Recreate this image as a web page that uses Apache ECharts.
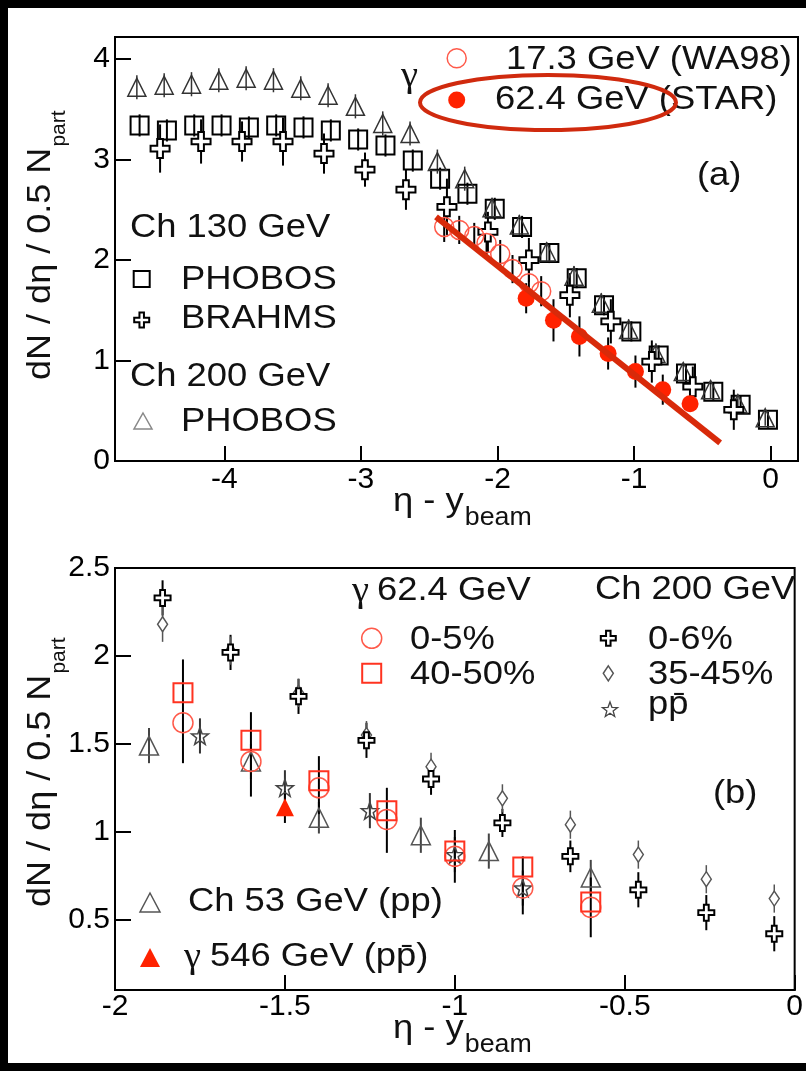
<!DOCTYPE html>
<html><head><meta charset="utf-8">
<script src="https://cdn.jsdelivr.net/npm/echarts@6/dist/echarts.min.js"></script>
<style>html,body{margin:0;padding:0;background:#000}#c{width:806px;height:1071px}</style>
</head><body><div id="c"></div>
<script>
// ---------------- Panel (a) data ----------------
const xTicksA = [-4, -3, -2, -1, 0];
const yTicksA = [0, 1, 2, 3, 4];
// Ch 130 GeV PHOBOS (open squares)
const phobos130X = [-4.62,-4.42,-4.22,-4.02,-3.82,-3.62,-3.42,-3.22,-3.02,-2.82,-2.62,-2.42,-2.22,-2.02,-1.82,-1.62,-1.42,-1.22,-1.02,-0.82,-0.62,-0.42,-0.22,-0.02];
const phobos130Y = [3.34,3.29,3.34,3.34,3.32,3.34,3.32,3.29,3.20,3.14,2.99,2.81,2.66,2.51,2.33,2.07,1.82,1.55,1.29,1.05,0.87,0.69,0.56,0.41];
const phobos130Err = [0.11,0.11,0.11,0.11,0.11,0.11,0.11,0.11,0.11,0.11,0.11,0.11,0.11,0.11,0.11,0.10,0.10,0.10,0.10,0.10,0.09,0.09,0.09,0.08];
// Ch 130 GeV BRAHMS (open crosses)
const brahmsX = [-4.47,-4.17,-3.87,-3.57,-3.27,-2.97,-2.67,-2.37,-2.07,-1.77,-1.47,-1.17,-0.87,-0.57,-0.27];
const brahmsY = [3.11,3.18,3.18,3.18,3.06,2.90,2.70,2.53,2.28,2.00,1.65,1.39,0.99,0.74,0.51];
const brahmsErr = [0.24,0.22,0.20,0.24,0.20,0.17,0.20,0.28,0.20,0.22,0.22,0.22,0.21,0.20,0.20];
// Ch 200 GeV PHOBOS (open triangles)
const phobos200X = [-4.64,-4.44,-4.24,-4.04,-3.84,-3.64,-3.44,-3.24,-3.04,-2.84,-2.64,-2.44,-2.24,-2.04,-1.84,-1.64,-1.44,-1.24,-1.04,-0.84,-0.64,-0.44,-0.24,-0.04];
const phobos200Y = [3.72,3.74,3.75,3.79,3.81,3.79,3.71,3.64,3.53,3.36,3.26,2.98,2.81,2.52,2.35,2.08,1.84,1.57,1.31,1.07,0.89,0.71,0.57,0.43];
const phobos200Err = [0.12,0.12,0.12,0.12,0.12,0.12,0.12,0.12,0.12,0.12,0.12,0.12,0.12,0.10,0.10,0.10,0.10,0.10,0.10,0.10,0.09,0.09,0.09,0.08];
// gamma 17.3 GeV WA98 (open red circles)
const wa98X = [-2.39,-2.28,-2.17,-2.08,-1.98,-1.89,-1.77,-1.68];
const wa98Y = [2.33,2.30,2.24,2.17,2.06,1.91,1.77,1.69];
const wa98Err = [0.15,0.14,0.13,0.14,0.14,0.14,0.15,0.15];
// gamma 62.4 GeV STAR (filled red circles)
const starX = [-1.79,-1.59,-1.40,-1.19,-0.99,-0.79,-0.59];
const starY = [1.62,1.40,1.24,1.07,0.89,0.71,0.57];
const starErr = [0.15,0.21,0.20,0.16,0.16,0.15,0.08];
// red straight line
const fitX = [-2.45, -0.37];
const fitY = [2.43, 0.18];

// ---------------- Panel (b) data ----------------
const xTicksB = [-2, -1.5, -1, -0.5, 0];
const yTicksB = [0.5, 1, 1.5, 2, 2.5];
const ch200X = [-1.86,-1.66,-1.46,-1.26,-1.07,-0.86,-0.66,-0.46,-0.26,-0.06];
const cent06Y = [2.33,2.02,1.77,1.52,1.30,1.05,0.86,0.67,0.54,0.42];
const cent06Err = [0.10,0.10,0.10,0.10,0.09,0.08,0.09,0.10,0.10,0.10];
const cent3545Y = [2.18,2.03,1.79,1.55,1.37,1.19,1.04,0.87,0.73,0.62];
const cent3545Err = [0.10,0.08,0.08,0.08,0.08,0.08,0.08,0.08,0.08,0.08];
const ppbarX = [-1.75,-1.50,-1.25,-1.00,-0.80];
const ppbarY = [1.545,1.25,1.12,0.87,0.68];
const ppbarErr = [0.10,0.10,0.10,0.10,0.10];
const ch53X = [-1.90,-1.60,-1.40,-1.10,-0.90,-0.60];
const ch53Y = [1.49,1.40,1.08,0.98,0.89,0.74];
const ch53Err = [0.10,0.10,0.09,0.10,0.10,0.10];
const g546X = [-1.50];
const g546Y = [1.14];
const g546Err = [0.09];
const g62X = [-1.80,-1.60,-1.40,-1.20,-1.00,-0.80,-0.60];
const g62c05Y = [1.62,1.40,1.25,1.07,0.86,0.68,0.57];
const g62c4050Y = [1.79,1.52,1.29,1.12,0.89,0.80,0.60];
const g62Lo = [1.39,1.20,1.10,0.88,0.71,0.53,0.40];
const g62Hi = [1.98,1.68,1.43,1.25,1.01,0.86,0.74];

// ---------------- helpers ----------------
const FONT = '"Liberation Sans", Arial, Helvetica, sans-serif';
const SERIF = '"Liberation Serif", "DejaVu Serif", serif';
const SX = 1.07;
const _ctx = document.createElement('canvas').getContext('2d');
function mw(t, size) { _ctx.font = size + 'px ' + FONT; return _ctx.measureText(t).width; }

const PLUS = 'path://M7,0H13V7H20V13H13V20H7V13H0V7H7Z';
function starPts(cx, cy, R, r) {
  const p = [];
  for (let i = 0; i < 10; i++) {
    const a = -Math.PI / 2 + i * Math.PI / 5;
    const rr = i % 2 === 0 ? R : r;
    p.push([cx + rr * Math.cos(a), cy + rr * Math.sin(a)]);
  }
  return p;
}
const STAR = 'path://' + starPts(10, 10, 10, 4).map((q, i) => (i ? 'L' : 'M') + q[0].toFixed(3) + ',' + q[1].toFixed(3)).join('') + 'Z';
const NONE = 'rgba(0,0,0,0)';

function errPM(xs, ys, es) { return xs.map((x, i) => [x, ys[i] - es[i], ys[i] + es[i]]); }
function errLH(xs, lo, hi) { return xs.map((x, i) => [x, lo[i], hi[i]]); }
function errSeries(data, idx, color, width) {
  return {
    type: 'custom', xAxisIndex: idx, yAxisIndex: idx, clip: true, silent: true, z: 2,
    encode: { x: 0, y: [1, 2] },
    renderItem: function (params, api) {
      const a = api.coord([api.value(0), api.value(1)]);
      const b = api.coord([api.value(0), api.value(2)]);
      return { type: 'line', shape: { x1: a[0], y1: a[1], x2: b[0], y2: b[1] }, style: { stroke: color, lineWidth: width } };
    },
    data: data
  };
}
function sc(xs, ys, idx, symbol, size, fill, stroke, lw, z) {
  return {
    type: 'scatter', xAxisIndex: idx, yAxisIndex: idx, symbol: symbol, symbolSize: size, silent: true, clip: true,
    z: z || 3,
    data: xs.map((x, i) => [x, ys[i]]),
    itemStyle: { color: fill, borderColor: stroke, borderWidth: lw, opacity: 1 }
  };
}
function T(x, y, text, size, color, family) {
  return { type: 'text', x: x, y: y, z: 50, silent: true, scaleX: SX,
    style: { text: text, font: size + 'px ' + (family || FONT), fill: color || '#111', align: 'left', verticalAlign: 'middle', textAlign: 'left', textVerticalAlign: 'middle' } };
}
function plusPts(cx, cy, s) {
  const a = s / 2, b = s * 0.15;
  return [[cx - b, cy - a], [cx + b, cy - a], [cx + b, cy - b], [cx + a, cy - b], [cx + a, cy + b], [cx + b, cy + b], [cx + b, cy + a], [cx - b, cy + a], [cx - b, cy + b], [cx - a, cy + b], [cx - a, cy - b], [cx - b, cy - b]];
}
function yLabel(xMid, yStart) {
  const main = 'dN / d\u03b7 / 0.5 N';
  const w = mw(main, 34) * 1.06;
  return { type: 'group', x: xMid, y: yStart, rotation: Math.PI / 2, z: 50, children: [
    { type: 'text', x: 0, y: 0, scaleX: 1.06, silent: true, style: { text: main, font: '34px ' + FONT, fill: '#111', align: 'left', verticalAlign: 'middle' } },
    { type: 'text', x: w + 1, y: 18, silent: true, style: { text: 'part', font: '21px ' + FONT, fill: '#111', align: 'left', verticalAlign: 'middle' } }
  ] };
}
function xLabel(xLeft, yMid) {
  const main = '\u03b7 - y';
  const w = mw(main, 34) * SX;
  return [T(xLeft, yMid, main, 34), T(xLeft + w + 1, yMid + 16, 'beam', 25)];
}

function axisPair(idx, xmin, xmax, xt, ymin, ymax, yt, xMargin) {
  const common = {
    type: 'value', gridIndex: idx, splitLine: { show: false },
    axisLine: { show: true, onZero: false, lineStyle: { color: '#000', width: 2 } }
  };
  const x = Object.assign({}, common, {
    min: xmin, max: xmax,
    axisTick: { show: true, inside: true, length: 15, lineStyle: { color: '#000', width: 2 }, customValues: xt },
    axisLabel: { customValues: xt, fontSize: 30, fontFamily: FONT, color: '#000', margin: xMargin, showMinLabel: true, showMaxLabel: true }
  });
  const y = Object.assign({}, common, {
    min: ymin, max: ymax,
    axisTick: { show: true, inside: true, length: 16, lineStyle: { color: '#000', width: 2 }, customValues: yt },
    axisLabel: { customValues: yt, fontSize: 30, fontFamily: FONT, color: '#000', margin: 5, showMinLabel: true, showMaxLabel: true }
  });
  return [x, y];
}
const [xa, ya] = axisPair(0, -4.8, 0.2, xTicksA, 0, 4.22, yTicksA, 4);
const [xb, yb] = axisPair(1, -2, 0, xTicksB, 0.1, 2.5, yTicksB, 2);

const RED = '#ff3320';
const series = [
  // panel (a)
  errSeries(errPM(phobos130X, phobos130Y, phobos130Err), 0, '#000', 2),
  errSeries(errPM(phobos200X, phobos200Y, phobos200Err), 0, '#333', 1.5),
  errSeries(errPM(brahmsX, brahmsY, brahmsErr), 0, '#000', 2),
  errSeries(errPM(wa98X, wa98Y, wa98Err), 0, '#000', 2),
  errSeries(errPM(starX, starY, starErr), 0, '#000', 2),
  sc(phobos130X, phobos130Y, 0, 'rect', 18, NONE, '#000', 2, 3),
  sc(phobos200X, phobos200Y, 0, 'triangle', 18, NONE, '#333', 1.5, 3),
  sc(brahmsX, brahmsY, 0, PLUS, 19, '#fff', '#000', 2, 4),
  sc(wa98X, wa98Y, 0, 'circle', 19, NONE, '#ff5a4a', 1.5, 5),
  sc(starX, starY, 0, 'circle', 17, '#ff2200', '#ff2200', 0, 5),
  { type: 'line', xAxisIndex: 0, yAxisIndex: 0, data: fitX.map((x, i) => [x, fitY[i]]), symbol: 'none', silent: true, z: 6,
    lineStyle: { color: '#d82a0a', width: 6 } },
  // panel (b)
  errSeries(errPM(ch200X, cent06Y, cent06Err), 1, '#000', 2),
  errSeries(errPM(ch200X, cent3545Y, cent3545Err), 1, '#555', 1.5),
  errSeries(errPM(ppbarX, ppbarY, ppbarErr), 1, '#333', 2),
  errSeries(errPM(ch53X, ch53Y, ch53Err), 1, '#444', 2),
  errSeries(errPM(g546X, g546Y, g546Err), 1, '#000', 2),
  errSeries(errLH(g62X, g62Lo, g62Hi), 1, '#000', 2),
  sc(ch53X, ch53Y, 1, 'triangle', 19, NONE, '#555', 1.5, 3),
  sc(ch200X, cent3545Y, 1, 'diamond', [10, 15], '#fff', '#555', 1.5, 3),
  sc(ch200X, cent06Y, 1, PLUS, 16, '#fff', '#000', 2, 4),
  sc(ppbarX, ppbarY, 1, STAR, 17, NONE, '#444', 1.5, 4),
  sc(g546X, g546Y, 1, 'triangle', 18, '#ff2200', '#ff2200', 0, 5),
  sc(g62X, g62c05Y, 1, 'circle', 20, NONE, '#ff5a4a', 1.5, 5),
  sc(g62X, g62c4050Y, 1, 'rect', 19, NONE, RED, 2, 5)
];

const graphic = [
  { type: 'rect', z: -100, silent: true, shape: { x: 8, y: 8, width: 798, height: 1055 }, style: { fill: '#fff' } },
  // panel (a) legends
  T(401, 77, '\u03b3', 36, '#111', SERIF),
  { type: 'circle', z: 50, silent: true, shape: { cx: 456.7, cy: 58.3, r: 9.5 }, style: { fill: NONE, stroke: '#ff5a4a', lineWidth: 1.5 } },
  T(506, 60, '17.3 GeV (WA98)', 34),
  { type: 'circle', z: 50, silent: true, shape: { cx: 456.7, cy: 100, r: 8.5 }, style: { fill: '#ff2200' } },
  T(495, 100, '62.4 GeV (STAR)', 34),
  { type: 'ellipse', z: 60, silent: true, shape: { cx: 548, cy: 102.5, rx: 128, ry: 27.5 }, style: { fill: NONE, stroke: '#d02a0e', lineWidth: 4 } },
  T(697, 176, '(a)', 34),
  T(130, 227.5, 'Ch 130 GeV', 34),
  { type: 'rect', z: 50, silent: true, shape: { x: 133.7, y: 271, width: 16, height: 16 }, style: { fill: NONE, stroke: '#000', lineWidth: 2 } },
  T(181, 280, 'PHOBOS', 34),
  { type: 'polygon', z: 50, silent: true, shape: { points: plusPts(141.7, 320, 15) }, style: { fill: '#fff', stroke: '#000', lineWidth: 2 } },
  T(181, 319, 'BRAHMS', 34),
  T(130, 377, 'Ch 200 GeV', 34),
  { type: 'polygon', z: 50, silent: true, shape: { points: [[143, 413], [152, 429], [134, 429]] }, style: { fill: NONE, stroke: '#888', lineWidth: 1.5 } },
  T(181, 421.5, 'PHOBOS', 34),
  // panel (b) legends
  T(352, 592, '\u03b3', 36, '#111', SERIF),
  T(377, 591, '62.4 GeV', 34),
  T(595, 590, 'Ch 200 GeV', 34),
  { type: 'circle', z: 50, silent: true, shape: { cx: 371.7, cy: 638.3, r: 10 }, style: { fill: NONE, stroke: '#ff5a4a', lineWidth: 1.5 } },
  T(410, 640, '0-5%', 34),
  { type: 'rect', z: 50, silent: true, shape: { x: 362.2, y: 663.8, width: 19, height: 19 }, style: { fill: NONE, stroke: RED, lineWidth: 2 } },
  T(410, 675, '40-50%', 34),
  { type: 'polygon', z: 50, silent: true, shape: { points: plusPts(608.3, 638.3, 15) }, style: { fill: '#fff', stroke: '#000', lineWidth: 2 } },
  T(648, 640, '0-6%', 34),
  { type: 'polygon', z: 50, silent: true, shape: { points: [[608.3, 665.8], [613.3, 673.3], [608.3, 680.8], [603.3, 673.3]] }, style: { fill: '#fff', stroke: '#555', lineWidth: 1.5 } },
  T(648, 675, '35-45%', 34),
  { type: 'polygon', z: 50, silent: true, shape: { points: starPts(610, 710, 8, 3.3) }, style: { fill: NONE, stroke: '#444', lineWidth: 1.3 } },
  T(648, 705, 'pp\u0304', 34),
  T(713, 794, '(b)', 34),
  { type: 'polygon', z: 50, silent: true, shape: { points: [[150, 893], [160, 912], [140, 912]] }, style: { fill: NONE, stroke: '#555', lineWidth: 1.5 } },
  T(188, 902, 'Ch 53 GeV (pp)', 34),
  { type: 'polygon', z: 50, silent: true, shape: { points: [[150, 948], [160, 967], [140, 967]] }, style: { fill: '#ff2200' } },
  T(184, 958, '\u03b3', 36, '#111', SERIF),
  T(210, 957, '546 GeV (pp\u0304)', 34),
  // axis names
  yLabel(41, 380),
  yLabel(41, 907)
].concat(xLabel(393, 502)).concat(xLabel(393, 1029));

const chart = echarts.init(document.getElementById('c'), null, { renderer: 'canvas' });
chart.setOption({
  backgroundColor: '#000',
  animation: false,
  grid: [
    { left: 115, top: 37, width: 683, height: 424, show: true, borderColor: '#000', borderWidth: 2, backgroundColor: NONE },
    { left: 115, top: 568, width: 683, height: 422, show: true, borderColor: '#000', borderWidth: 2, backgroundColor: NONE }
  ],
  xAxis: [xa, xb],
  yAxis: [ya, yb],
  series: series,
  graphic: graphic
});
</script></body></html>
